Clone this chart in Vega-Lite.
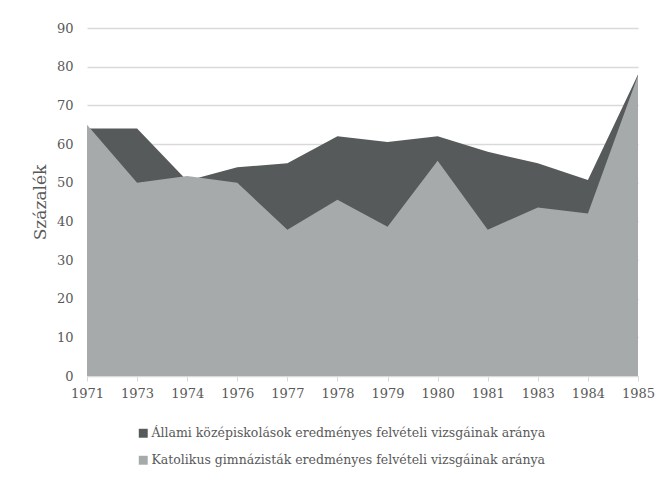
{
  "$schema": "https://vega.github.io/schema/vega-lite/v6.json",
  "autosize": {"type": "none"},
  "padding": {"left": 87, "top": 28, "right": 29, "bottom": 106},
  "width": 551,
  "height": 348,
  "background": "white",
  "config": {
    "view": {"stroke": null},
    "font": "DejaVu Serif",
    "axis": {"labelFont": "DejaVu Serif", "titleFont": "DejaVu Serif", "labelColor": "#595959", "titleColor": "#595959"},
    "legend": {"labelFont": "DejaVu Serif", "labelColor": "#595959", "labelLimit": 0}
  },
  "data": {
    "values": [
      {"year": "1971", "series": "Állami középiskolások eredményes felvételi vizsgáinak aránya", "value": 64},
      {"year": "1973", "series": "Állami középiskolások eredményes felvételi vizsgáinak aránya", "value": 64},
      {"year": "1974", "series": "Állami középiskolások eredményes felvételi vizsgáinak aránya", "value": 50.5},
      {"year": "1976", "series": "Állami középiskolások eredményes felvételi vizsgáinak aránya", "value": 54},
      {"year": "1977", "series": "Állami középiskolások eredményes felvételi vizsgáinak aránya", "value": 55},
      {"year": "1978", "series": "Állami középiskolások eredményes felvételi vizsgáinak aránya", "value": 62},
      {"year": "1979", "series": "Állami középiskolások eredményes felvételi vizsgáinak aránya", "value": 60.5},
      {"year": "1980", "series": "Állami középiskolások eredményes felvételi vizsgáinak aránya", "value": 62},
      {"year": "1981", "series": "Állami középiskolások eredményes felvételi vizsgáinak aránya", "value": 58},
      {"year": "1983", "series": "Állami középiskolások eredményes felvételi vizsgáinak aránya", "value": 55},
      {"year": "1984", "series": "Állami középiskolások eredményes felvételi vizsgáinak aránya", "value": 50.7},
      {"year": "1985", "series": "Állami középiskolások eredményes felvételi vizsgáinak aránya", "value": 78},
      {"year": "1971", "series": "Katolikus gimnázisták eredményes felvételi vizsgáinak aránya", "value": 65},
      {"year": "1973", "series": "Katolikus gimnázisták eredményes felvételi vizsgáinak aránya", "value": 50},
      {"year": "1974", "series": "Katolikus gimnázisták eredményes felvételi vizsgáinak aránya", "value": 51.7},
      {"year": "1976", "series": "Katolikus gimnázisták eredményes felvételi vizsgáinak aránya", "value": 50},
      {"year": "1977", "series": "Katolikus gimnázisták eredményes felvételi vizsgáinak aránya", "value": 37.8},
      {"year": "1978", "series": "Katolikus gimnázisták eredményes felvételi vizsgáinak aránya", "value": 45.6},
      {"year": "1979", "series": "Katolikus gimnázisták eredményes felvételi vizsgáinak aránya", "value": 38.6},
      {"year": "1980", "series": "Katolikus gimnázisták eredményes felvételi vizsgáinak aránya", "value": 55.7},
      {"year": "1981", "series": "Katolikus gimnázisták eredményes felvételi vizsgáinak aránya", "value": 37.8},
      {"year": "1983", "series": "Katolikus gimnázisták eredményes felvételi vizsgáinak aránya", "value": 43.6},
      {"year": "1984", "series": "Katolikus gimnázisták eredményes felvételi vizsgáinak aránya", "value": 42},
      {"year": "1985", "series": "Katolikus gimnázisták eredményes felvételi vizsgáinak aránya", "value": 77.7}
    ]
  },
  "encoding": {
    "x": {
      "field": "year", "type": "ordinal",
      "scale": {"type": "point", "padding": 0},
      "axis": {"title": null, "labelAngle": 0, "labelFontSize": 13, "domainColor": "#d9d9d9", "tickColor": "#d9d9d9", "tickSize": 5, "labelPadding": 6, "grid": false}
    },
    "y": {
      "field": "value", "type": "quantitative", "stack": null,
      "scale": {"domain": [0, 90], "nice": false},
      "axis": {"title": "Százalék", "titleFontSize": 17, "titleFontWeight": "normal", "titlePadding": 7, "values": [0,10,20,30,40,50,60,70,80,90], "labelFontSize": 13, "domain": false, "ticks": false, "labelPadding": 14, "gridColor": "#d9d9d9", "gridWidth": 1.3}
    },
    "color": {
      "field": "series", "type": "nominal",
      "scale": {"domain": ["Állami középiskolások eredményes felvételi vizsgáinak aránya", "Katolikus gimnázisták eredményes felvételi vizsgáinak aránya"], "range": ["#575a5b", "#a7aaab"]},
      "legend": {"title": null, "orient": "none", "legendX": 50, "legendY": 399, "direction": "vertical", "symbolType": "square", "symbolSize": 80, "symbolStrokeWidth": 0, "labelFontSize": 12.5, "rowPadding": 14, "labelOffset": 2, "labelLimit": 0}
    }
  },
  "layer": [
    {"transform": [{"filter": "datum.series === 'Állami középiskolások eredményes felvételi vizsgáinak aránya'"}], "mark": {"type": "area", "opacity": 1}},
    {"transform": [{"filter": "datum.series === 'Katolikus gimnázisták eredményes felvételi vizsgáinak aránya'"}], "mark": {"type": "area", "opacity": 1}}
  ]
}
